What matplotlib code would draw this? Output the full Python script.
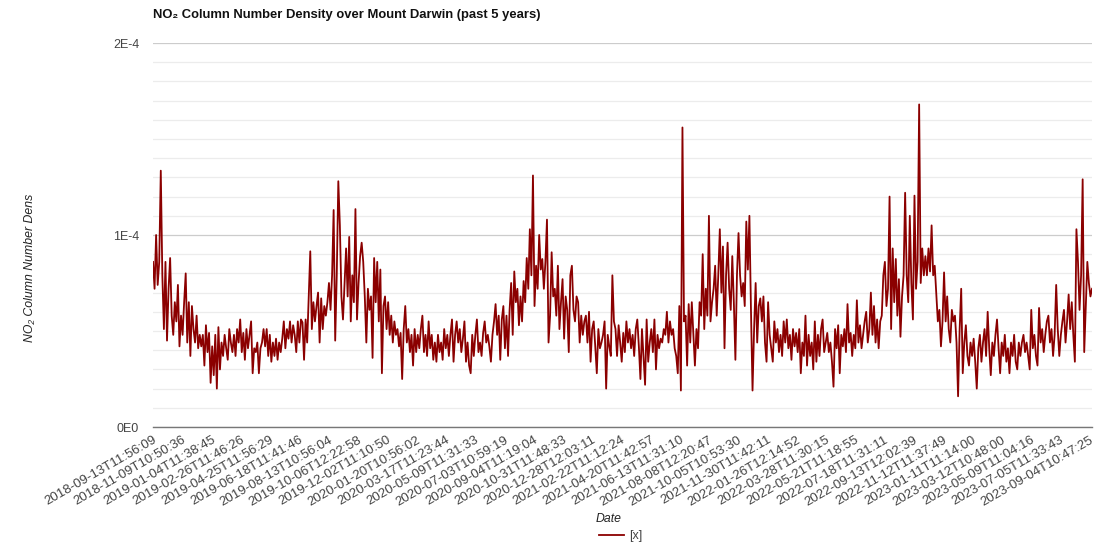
import numpy as np
import matplotlib
matplotlib.use("Agg")
import matplotlib.pyplot as plt
from matplotlib.ticker import MultipleLocator

# NO2 column density values in units of 1e-6 (in order)
seg1 = [86, 72, 100, 74, 86, 133.5, 79, 51, 86, 45, 72, 88, 58, 48, 65, 55, 74, 42, 58, 48,
        65, 80, 44, 65, 37, 63, 51, 44, 58, 41, 48, 42, 48, 32, 53, 39, 49, 23, 42, 27,
        48, 20, 52, 30, 44, 37, 48, 41, 35, 51, 44, 39, 48, 37, 51, 44, 56, 39, 49, 35,
        51, 41, 48, 55, 28, 41, 39, 44, 28, 41, 44, 51, 42, 51, 37, 48, 34, 44, 37, 46,
        35, 44, 39, 46, 55, 41, 51, 46, 55, 44, 53, 48, 39, 55, 44, 56]
seg2 = [54.5, 35, 56, 44, 67, 91.5, 51, 65, 55, 63, 70, 44, 67, 51, 63, 58, 65, 75, 61, 79,
        113, 45, 79, 128, 105, 68, 56, 75, 93, 68, 99, 55, 79, 65, 113.5, 56, 75, 89, 96, 86,
        68, 44, 72, 61, 68, 36, 88, 65, 86, 55, 82, 28, 63, 68, 51, 65, 48, 58, 44, 55,
        48, 51, 42, 49, 25, 51, 63, 44, 51, 39, 48, 32, 51, 39, 48, 41, 51, 58, 39, 48,
        37, 55, 41, 48, 35, 44, 34, 48, 39, 44, 35, 51, 41, 48, 37, 48, 56, 34, 48, 55, 44]
seg3 = [51, 39, 46, 55, 34, 44, 32, 28, 48, 37, 48, 56, 39, 44, 37, 49, 55, 44, 48, 42,
        34, 48, 55, 64, 48, 58, 35, 56, 63, 41, 58, 37, 61, 75, 48, 81, 65, 72, 53, 68,
        55, 76, 65, 88, 72, 103, 79, 131, 63, 84, 72, 100, 82, 87.5, 72, 86, 108, 44, 58, 91,
        68, 72, 58, 84, 51, 65, 77, 46, 68, 61, 39, 79, 84, 61, 55, 68, 65, 44, 58, 48,
        55, 58, 44, 60, 34, 51, 55, 42, 28, 51, 41, 44, 48, 55, 20, 48, 42, 37, 79, 55]
seg4 = [51, 37, 53, 44, 34, 49, 39, 55, 44, 51, 41, 48, 37, 51, 56, 42, 25, 51, 37, 22,
        56, 34, 44, 51, 39, 56, 30, 48, 41, 46, 44, 51, 48, 60, 44, 55, 48, 51, 41, 37,
        28, 63, 19, 156, 55, 58, 32, 64, 44, 65, 48, 32, 51, 41, 65, 58, 90, 51, 72, 58,
        110, 55, 65, 72, 84, 58, 79, 103, 70, 94, 41, 79, 96, 72, 61, 89, 65, 35, 79, 101,
        79, 68, 75, 63, 107, 82, 110, 61, 19, 51, 75, 44, 63, 67, 55, 68, 44, 34, 65]
seg5 = [48, 41, 34, 55, 44, 51, 39, 48, 37, 55, 44, 56, 41, 48, 35, 51, 42, 49, 39, 51,
        28, 44, 37, 58, 32, 48, 37, 44, 30, 55, 34, 48, 37, 51, 56, 39, 44, 49, 39, 44,
        34, 21, 51, 41, 53, 28, 48, 42, 51, 39, 64, 44, 49, 37, 48, 41, 66, 44, 53, 41,
        48, 55, 60, 44, 51, 70, 48, 63, 44, 56, 41, 55, 58, 79, 86, 63, 72, 120, 51, 93,
        65, 87.5, 58, 77, 47, 68, 79, 122, 79, 65, 110, 75, 56, 120.5, 72, 86, 168, 75, 93, 79, 89]
seg6 = [79, 93, 81, 105, 79, 84, 70, 55, 61, 42, 55, 80.5, 55, 68, 51, 44, 61, 55, 58, 44,
        16, 51, 72, 28, 44, 53, 37, 32, 44, 37, 46, 34, 20, 41, 48, 34, 44, 51, 37, 60,
        41, 27, 44, 37, 48, 56, 41, 28, 44, 37, 48, 34, 41, 28, 44, 37, 48, 34, 30, 44,
        37, 44, 48, 39, 44, 37, 30, 61, 41, 48, 37, 32, 62, 44, 51, 39, 48, 55, 58, 44,
        51, 37, 48, 74, 51, 37, 48, 55, 61, 44, 55, 69, 51, 65, 48, 34, 103, 86, 61, 79,
        129, 39, 63, 86, 75, 68, 72]

tick_labels = [
    "2018-09-13T11:56:09", "2018-11-09T10:50:36", "2019-01-04T11:38:45", "2019-02-26T11:46:26",
    "2019-04-25T11:56:29", "2019-06-18T11:41:46", "2019-08-13T10:56:04", "2019-10-06T12:22:58",
    "2019-12-02T11:10:50", "2020-01-20T10:56:02", "2020-03-17T11:23:44", "2020-05-09T11:31:33",
    "2020-07-03T10:59:19", "2020-09-04T11:19:04", "2020-10-31T11:48:33", "2020-12-28T12:03:11",
    "2021-02-22T11:12:24", "2021-04-20T11:42:57", "2021-06-13T11:31:10", "2021-08-08T12:20:47",
    "2021-10-05T10:53:30", "2021-11-30T11:42:11", "2022-01-26T12:14:52", "2022-03-28T11:30:15",
    "2022-05-21T11:18:55", "2022-07-18T11:31:11", "2022-09-13T12:02:39", "2022-11-12T11:37:49",
    "2023-01-11T11:14:00", "2023-03-12T10:48:00", "2023-05-09T11:04:16", "2023-07-05T11:33:43",
    "2023-09-04T10:47:25",
]

y_ticks = [0, 1e-4, 2e-4]
y_tick_labels = ["0E0", "1E-4", "2E-4"]

values = np.array(seg1 + seg2 + seg3 + seg4 + seg5 + seg6) * 1e-6
n_records = 1606          # number of observations in the original series
tick_step = 50            # one label every 50 observations
x = np.linspace(0, n_records - 1, len(values))

plt.rcParams['font.family'] = ['Liberation Sans', 'DejaVu Sans']

fig = plt.figure(figsize=(11.10, 5.45), dpi=100)
ax = fig.add_axes([153/1110, 1 - 427/545, (1092 - 153)/1110, (427 - 43)/545])

ax.plot(x, values, color='#8b0000', lw=1.3, label='[x]')

ax.set_xlim(0, n_records - 1)
ax.set_ylim(0, 2e-4)

# gridlines
ax.yaxis.set_minor_locator(MultipleLocator(1e-5))
ax.set_yticks(y_ticks)
ax.set_yticklabels(y_tick_labels, color='#444444', fontsize=9)
ax.grid(True, which='minor', axis='y', color='#ececec', lw=0.9)
ax.grid(True, which='major', axis='y', color='#cccccc', lw=0.9)
ax.tick_params(axis='y', which='both', length=0, pad=10)
ax.set_axisbelow(True)

tpos = np.arange(len(tick_labels)) * tick_step
ax.set_xticks(tpos)
ax.set_xticklabels(tick_labels, rotation=30, ha='right', rotation_mode='anchor',
                   fontsize=9.5, color='#444444')
ax.tick_params(axis='x', length=0, pad=5)

for s in ['top', 'right', 'left']:
    ax.spines[s].set_visible(False)
ax.spines['bottom'].set_color('#777777')
ax.spines['bottom'].set_linewidth(1.0)

fig.text(153/1110, 1 - 15/545, "NO₂ Column Number Density over Mount Darwin (past 5 years)",
         fontsize=9.4, fontweight='bold', color='#111111', ha='left', va='center')
fig.text(30/1110, 1 - 268/545, "NO₂ Column Number Dens", rotation=90, style='italic',
         fontsize=8.8, color='#222222', ha='center', va='center')
fig.text(609/1110, 1 - 519/545, "Date", style='italic', fontsize=8.8, color='#222222',
         ha='center', va='center')

leg = fig.legend(loc='center', bbox_to_anchor=(621/1110, 1 - 536/545), frameon=False,
                 fontsize=9, handlelength=2.0, handletextpad=0.4)
for t in leg.get_texts():
    t.set_color('#444444')

fig.savefig('out.png', dpi=100, facecolor='white')
